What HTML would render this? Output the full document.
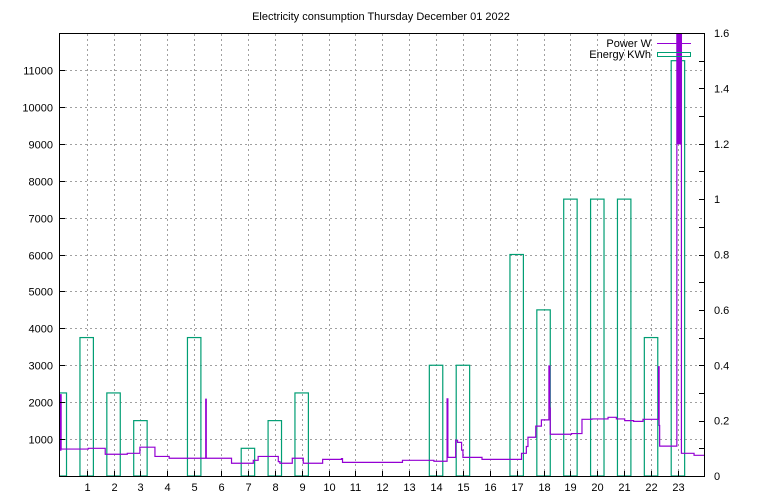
<!DOCTYPE html>
<html><head><meta charset="utf-8"><style>
body{margin:0;background:#fff;}
svg{display:block;font-family:"Liberation Sans",sans-serif;font-size:11px;}
</style></head><body>
<svg id="chart" width="768" height="500" viewBox="0 0 768 500">
<text x="381" y="20" text-anchor="middle">Electricity consumption Thursday December 01 2022</text>
<defs><clipPath id="clip"><rect x="60" y="33" width="645" height="443"/></clipPath></defs>
<g id="grid"></g>
<g id="bars" clip-path="url(#clip)"></g>
<g id="power" clip-path="url(#clip)"></g>
<rect x="59.5" y="33.5" width="645" height="443" fill="none" stroke="#000"/>
<g id="axes"></g>
<g>
<text x="651" y="47" text-anchor="end">Power W</text>
<line x1="657" y1="43.5" x2="691" y2="43.5" stroke="#9400d3"/>
<text x="651" y="58" text-anchor="end">Energy KWh</text>
<rect x="657.5" y="52.5" width="33" height="4" fill="none" stroke="#009e73"/>
</g>
</svg>
<script>
const hours=[0,1,2,3,4,5,6,7,8,9,10,11,12,13,14,15,16,17,18,19,20,21,22,23];
const energy=[0.3,0.5,0.3,0.2,0,0.5,0,0.1,0.2,0.3,0,0,0,0,0.4,0.4,0,0.8,0.6,1.0,1.0,1.0,0.5,1.5];
const xTicks=[1,2,3,4,5,6,7,8,9,10,11,12,13,14,15,16,17,18,19,20,21,22,23];
const yTicks=[1000,2000,3000,4000,5000,6000,7000,8000,9000,10000,11000];
const y2Ticks=[0,0.2,0.4,0.6,0.8,1,1.2,1.4,1.6];
const y2Labels=["0","0.2","0.4","0.6","0.8","1","1.2","1.4","1.6"];
const powerT=[0,0.01,0.02,0.03,0.04,0.05,1.06,1.69,2.51,2.98,3.54,4.07,5.43,5.45,6.39,7.2,7.38,8.13,8.19,8.65,9.06,9.78,10.48,10.52,12.75,13.92,14.41,14.44,14.73,14.8,14.95,15.0,15.71,17.18,17.36,17.42,17.71,17.92,18.2,18.23,18.25,18.27,19.04,19.43,19.8,20.4,20.71,21.02,21.35,21.7,22.28,22.3,22.32,22.96,22.98,23.0,23.02,23.04,23.06,23.08,23.1,23.12,23.13,23.6];
const powerV=[2200,700,2200,700,2200,730,750,590,615,780,530,480,2080,480,345,425,530,390,345,480,345,450,470,370,425,400,2090,505,970,910,700,505,450,615,800,1050,1350,1520,2980,1840,1130,1130,1150,1535,1545,1590,1545,1500,1480,1535,2960,1370,810,12500,9000,12500,9000,12500,9000,12500,9000,12500,615,560];
const X0=59.8,XS=26.875,Y0=476,YS=443/12000;
const xs=h=>X0+h*XS, ys=v=>Y0-v*YS, ys2=e=>Y0-e*443/1.6;
const NS="http://www.w3.org/2000/svg";
function mk(tag,attrs,parent){const e=document.createElementNS(NS,tag);for(const k in attrs)e.setAttribute(k,attrs[k]);document.getElementById(parent).appendChild(e);return e;}
xTicks.forEach(h=>{const x=Math.round(xs(h))+0.5;
 const g=mk('line',{x1:x,y1:34,x2:x,y2:476,stroke:'#a0a0a0','stroke-dasharray':'2,3'},'grid');
 
 const t=mk('line',{x1:x,y1:476,x2:x,y2:471,stroke:'#000'},'axes');
 
 const tx=mk('text',{x:x,y:491,'text-anchor':'middle'},'axes');tx.textContent=h;
 });
yTicks.forEach(v=>{const y=Math.round(ys(v))+0.5;
 const g=mk('line',{x1:60,y1:y,x2:704,y2:y,stroke:'#a0a0a0','stroke-dasharray':'2,3'},'grid');
 
 const t=mk('line',{x1:60,y1:y,x2:65,y2:y,stroke:'#000'},'axes');
 
 const tx=mk('text',{x:53,y:y+4,'text-anchor':'end'},'axes');tx.textContent=v;
 });
for(let i=1;i<16;i++){const y=Math.round(ys2(i/10))+0.5;
 const t=mk('line',{x1:699,y1:y,x2:704,y2:y,stroke:'#000'},'axes');
 }
y2Ticks.forEach((e,i)=>{const tx=mk('text',{x:714,y:ys2(e)+4},'axes');tx.textContent=y2Labels[i];
 });
hours.forEach((h,i)=>{if(energy[i]<=0)return;const x0=xs(h-0.25),x1=xs(h+0.25),y=ys2(energy[i]);
 const r=mk('rect',{x:x0,y:y,width:x1-x0,height:Y0-y,fill:'none',stroke:'#009e73','stroke-width':1.2},'bars');
 });
let d='';for(let i=0;i<powerT.length;i++){const x0=xs(powerT[i]),x1=xs(i+1<powerT.length?powerT[i+1]:24),y=ys(powerV[i]);
 d+=(i===0?'M':'L')+x0.toFixed(2)+','+y.toFixed(2)+'L'+x1.toFixed(2)+','+y.toFixed(2);}
const p=mk('path',{d:d,fill:'none',stroke:'#9400d3','stroke-width':1.2},'power');

</script>
</body></html>
